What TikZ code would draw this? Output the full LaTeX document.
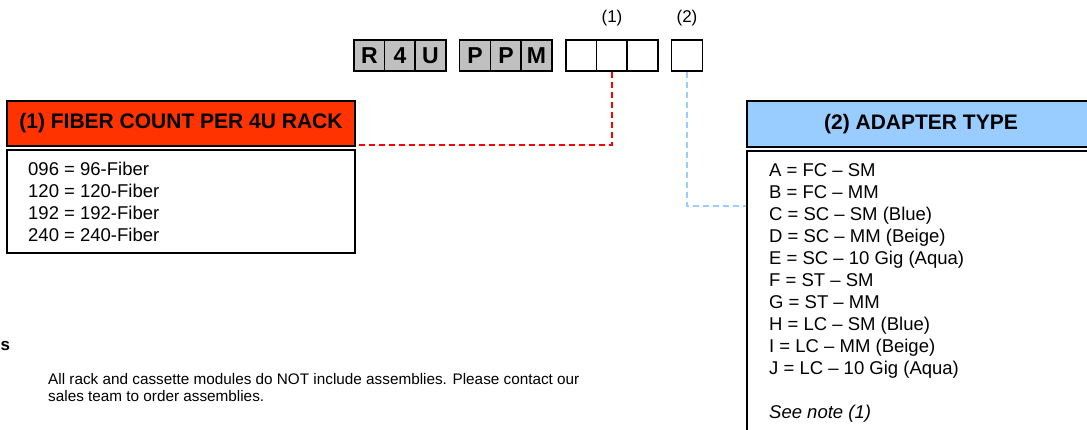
\documentclass[tikz,border=0pt]{standalone}
\usepackage{fontspec}
\setmainfont{Liberation Sans}
\definecolor{hdrred}{HTML}{FF3300}
\definecolor{hdrblue}{HTML}{99CCFF}
\definecolor{cellgray}{HTML}{C0C0C0}
\definecolor{dashred}{HTML}{FF0000}
\begin{document}
\begin{tikzpicture}[x=1pt,y=-1pt,
  cell/.style={draw=black,line width=1.6pt,minimum width=30.7pt,minimum height=31pt,inner sep=0pt,font=\fontsize{23}{23}\selectfont\bfseries},
  graycell/.style={cell,fill=cellgray},
  emptycell/.style={cell,fill=white},
  hdr/.style={draw=black,line width=1.8pt,inner sep=0pt,font=\fontsize{21}{21}\selectfont\bfseries},
  bodybox/.style={draw=black,line width=1.8pt,inner sep=0pt},
  listtext/.style={anchor=north west,inner sep=0pt,align=left,font=\fontsize{18.5}{22}\selectfont},
  lbl/.style={inner sep=0pt,font=\fontsize{17}{17}\selectfont},
  link/.style={line width=1.6pt,dash pattern=on 6pt off 4pt}]
\useasboundingbox (0,0) rectangle (1087,430);
% code cells
\node[graycell] (r1) at (369.5,55.5) {R};
\node[graycell] (r2) at (400,55.5) {4};
\node[graycell] (r3) at (430.5,55.5) {U};
\node[graycell] (p1) at (475,55.5) {P};
\node[graycell] (p2) at (506,55.5) {P};
\node[graycell] (p3) at (536.5,55.5) {M};
\node[emptycell] (e1) at (581.5,55.5) {};
\node[emptycell] (e2) at (612,55.5) {};
\node[emptycell] (e3) at (642.5,55.5) {};
\node[emptycell] (e4) at (687,55.5) {};
\node[lbl] (l1) at (612,18) {(1)};
\node[lbl] (l2) at (687,18) {(2)};
% left box
\node[hdr,fill=hdrred,minimum width=348pt,minimum height=45pt] (h1) at (181,123.5) {(1) FIBER COUNT PER 4U RACK};
\node[bodybox,fill=white,minimum width=348pt,minimum height=103pt,anchor=north] (b1) at (181,149) {};
\node[listtext] (t1) at (28,162) {096 = 96-Fiber\\120 = 120-Fiber\\192 = 192-Fiber\\240 = 240-Fiber};
% right box
\node[hdr,fill=hdrblue,minimum width=348pt,minimum height=46pt] (h2) at (921,124) {(2) ADAPTER TYPE};
\node[bodybox,fill=white,minimum width=348pt,minimum height=300pt,anchor=north] (b2) at (921,150) {};
\node[listtext] (t2) at (769,163) {A = FC -- SM\\B = FC -- MM\\C = SC -- SM (Blue)\\D = SC -- MM (Beige)\\E = SC -- 10 Gig (Aqua)\\F = ST -- SM\\G = ST -- MM\\H = LC -- SM (Blue)\\I = LC -- MM (Beige)\\J = LC -- 10 Gig (Aqua)\\[22pt]\textit{See note (1)}};
% notes
\node[inner sep=0pt,anchor=west,font=\fontsize{17}{17}\selectfont\bfseries] (ns) at (0.5,346) {s};
\node[anchor=north west,inner sep=0pt,align=left,font=\fontsize{15.3}{17}\selectfont] (nt) at (48,373) {All rack and cassette modules do NOT include assemblies. Please contact our\\sales team to order assemblies.};
% connectors
\coordinate (c1) at (b1.north east);
\coordinate (c2) at ([yshift=-56pt]b2.north west);
\draw[link,dashred] (e2.south) |- ([yshift=4pt]c1);
\draw[link,hdrblue] (e4.south) |- (c2);
\end{tikzpicture}
\end{document}
